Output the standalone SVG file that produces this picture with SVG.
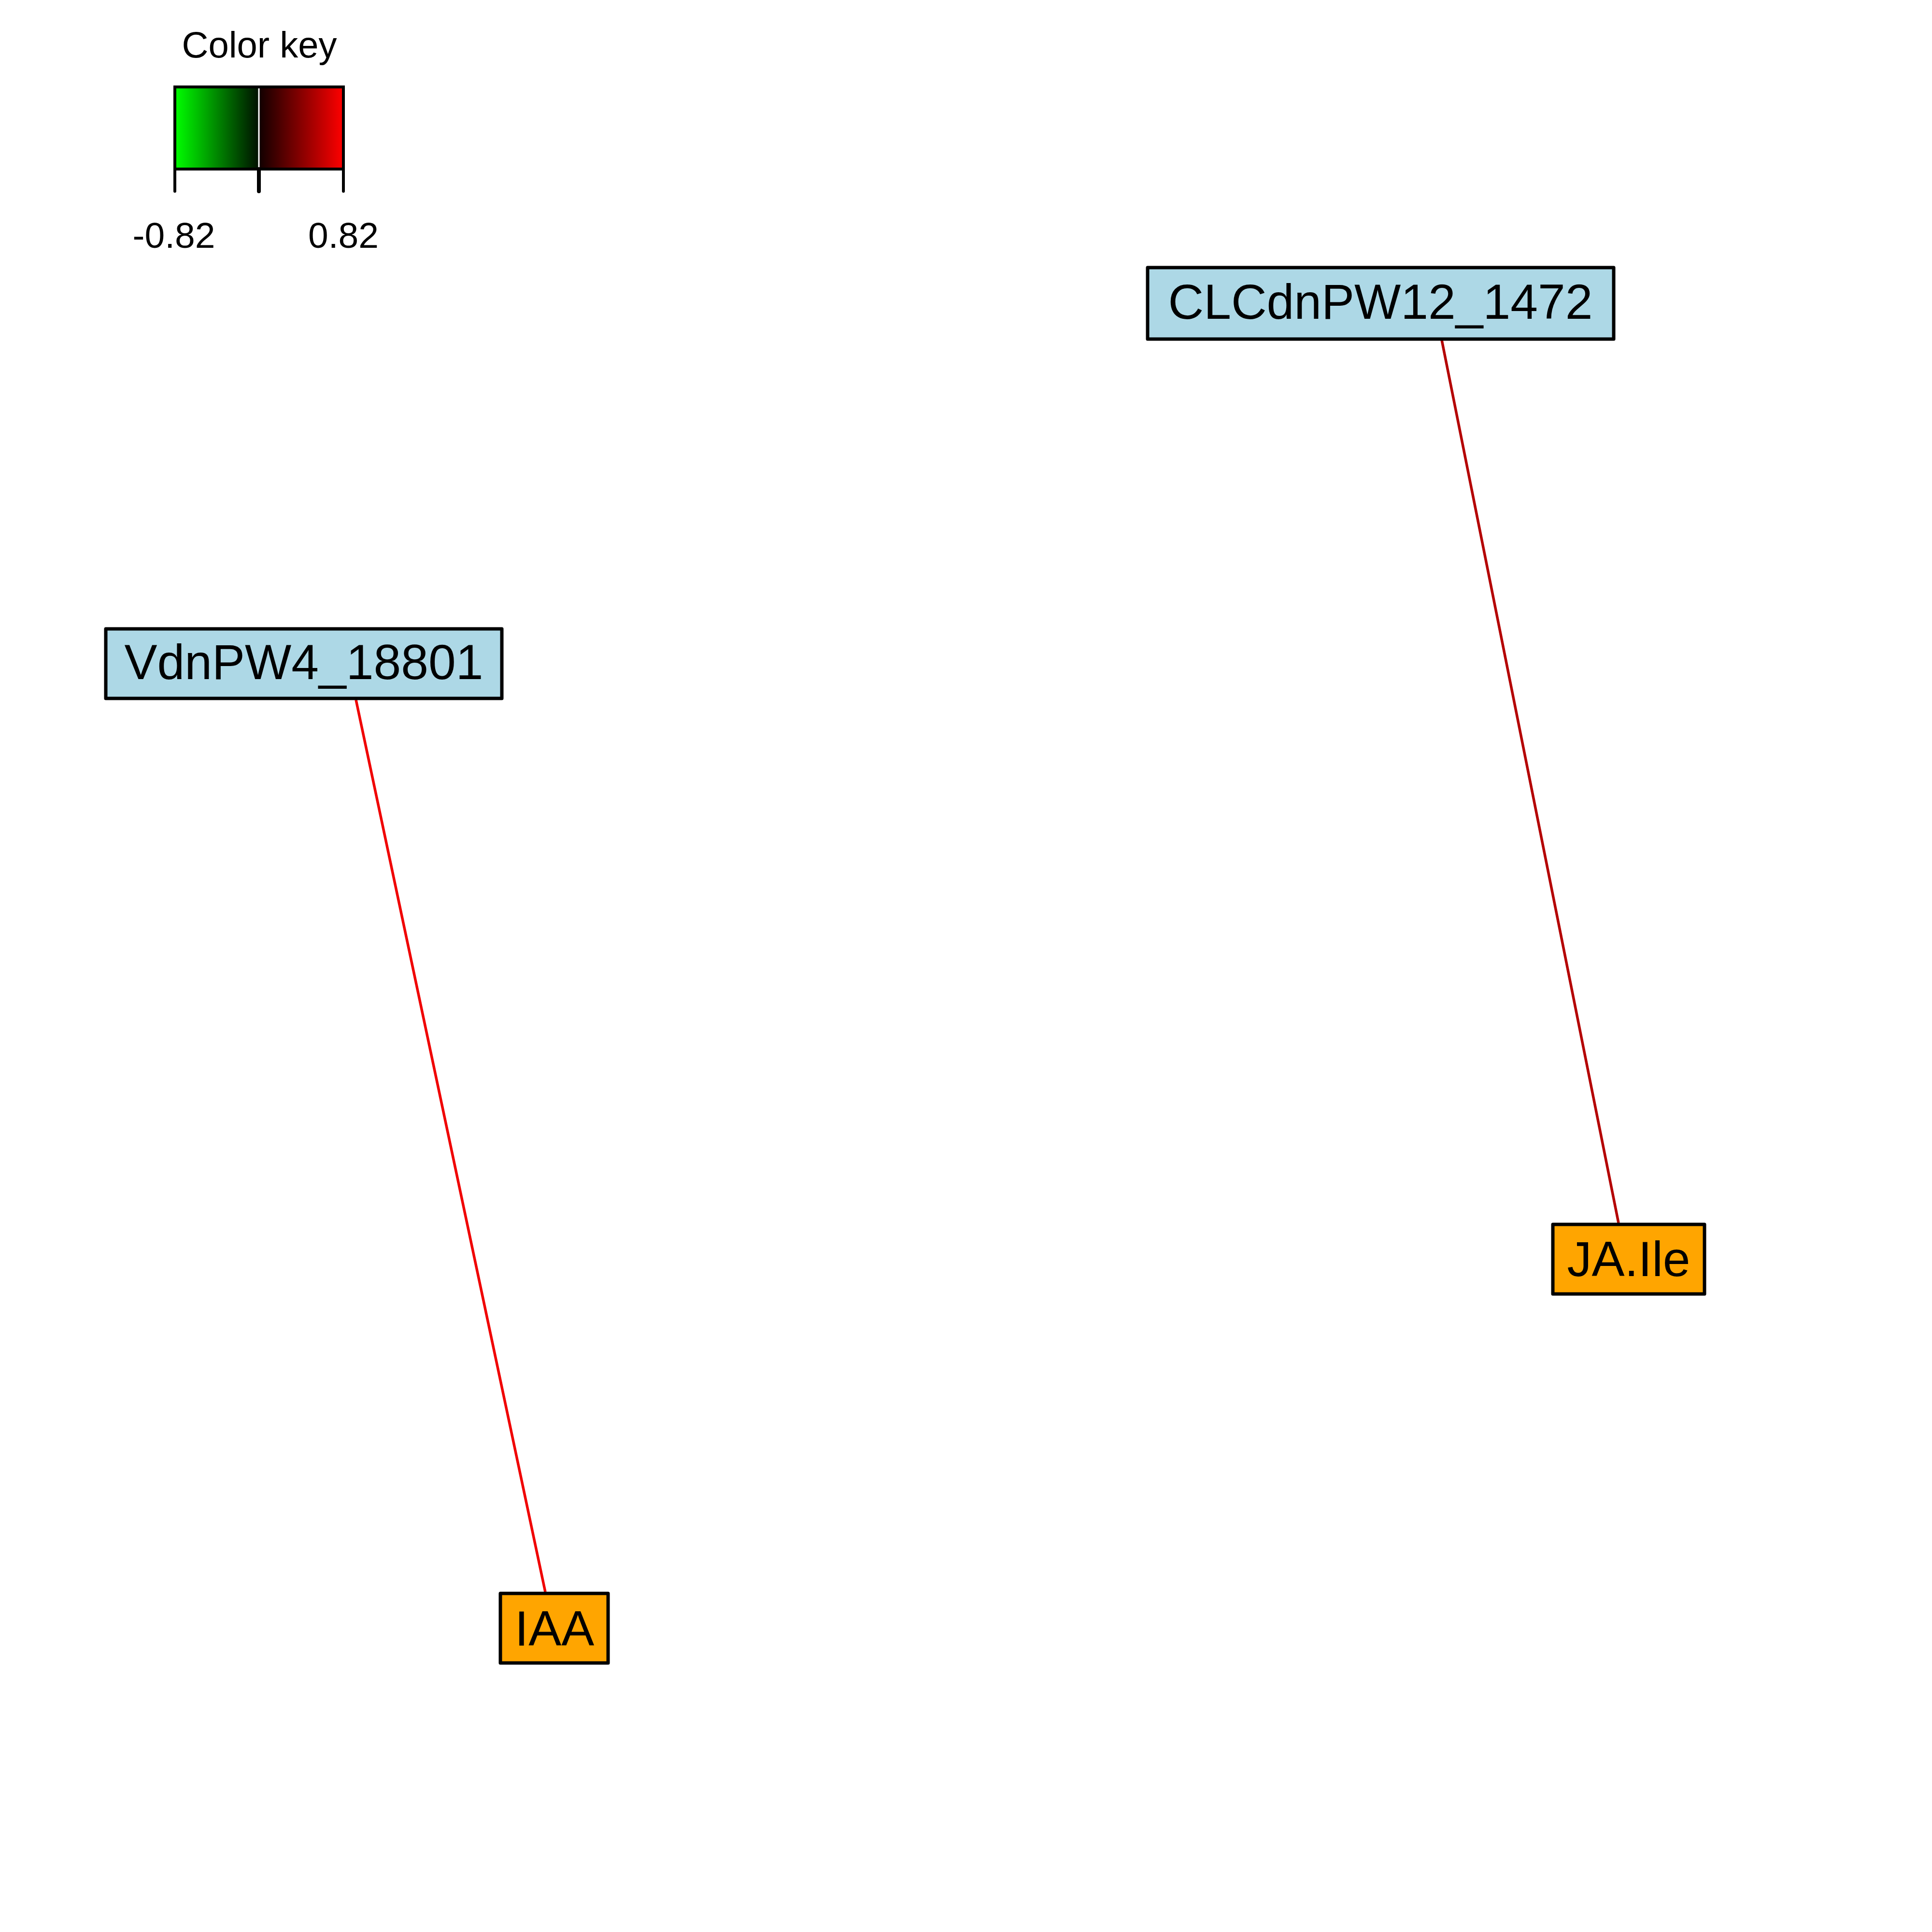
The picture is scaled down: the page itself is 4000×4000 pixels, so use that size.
<svg xmlns="http://www.w3.org/2000/svg" width="4000" height="4000" viewBox="0 0 4000 4000">
  <style>
    text { font-family: "Liberation Sans", Arial, sans-serif; fill: #000000; }
    .lbl { font-size: 102px; text-anchor: middle; }
    .gene { fill: #ADD8E6; stroke: #000000; stroke-width: 7; stroke-linejoin: round; }
    .metab { fill: #FFA500; stroke: #000000; stroke-width: 7; stroke-linejoin: round; }
    .edge { fill: none; stroke-width: 5.5; }
    .tick { stroke: #000000; stroke-width: 6; stroke-linecap: round; }
    .keytxt { font-size: 75px; text-anchor: middle; }
  </style>
  <defs>
    <linearGradient id="gNeg" x1="0" y1="0" x2="1" y2="0">
      <stop offset="0" stop-color="#00FF00"/>
      <stop offset="1" stop-color="#001000"/>
    </linearGradient>
    <linearGradient id="gPos" x1="0" y1="0" x2="1" y2="0">
      <stop offset="0" stop-color="#100000"/>
      <stop offset="1" stop-color="#FF0000"/>
    </linearGradient>
  </defs>
  <rect x="0" y="0" width="4000" height="4000" fill="#FFFFFF"/>

  <g id="color-key">
    <text x="537" y="119" style="font-size:76px; text-anchor:middle">Color key</text>
    <rect x="362" y="180" width="174" height="170" fill="url(#gNeg)"/>
    <rect x="536" y="180" width="175" height="170" fill="url(#gPos)"/>
    <line x1="536" y1="180" x2="536" y2="350" stroke="#FFFFFF" stroke-width="3"/>
    <rect x="362" y="180" width="349" height="170" fill="none" stroke="#000000" stroke-width="6"/>
    <line class="tick" x1="362" y1="350" x2="362" y2="396"/>
    <line class="tick" x1="536" y1="350" x2="536" y2="396" style="stroke-width:8"/>
    <line class="tick" x1="711" y1="350" x2="711" y2="396"/>
    <text class="keytxt" x="360" y="513">-0.82</text>
    <text class="keytxt" x="711" y="513">0.82</text>
  </g>

  <g id="connectors">
    <line class="edge" x1="737" y1="1449" x2="1129" y2="3296" stroke="#F00000"/>
    <line class="edge" x1="2985" y1="704" x2="3351" y2="2532" stroke="#B40000"/>
  </g>

  <g id="node-CLCdnPW12_1472">
    <rect class="gene" x="2376" y="554" width="965" height="148"/>
    <text class="lbl" x="2858" y="660">CLCdnPW12_1472</text>
  </g>
  <g id="node-VdnPW4_18801">
    <rect class="gene" x="219" y="1302" width="820" height="144"/>
    <text class="lbl" x="629" y="1406">VdnPW4_18801</text>
  </g>
  <g id="node-JA.Ile">
    <rect class="metab" x="3215" y="2535" width="314" height="144"/>
    <text class="lbl" x="3372" y="2642">JA.Ile</text>
  </g>
  <g id="node-IAA">
    <rect class="metab" x="1036" y="3299" width="223" height="144"/>
    <text class="lbl" x="1148" y="3407">IAA</text>
  </g>
</svg>
